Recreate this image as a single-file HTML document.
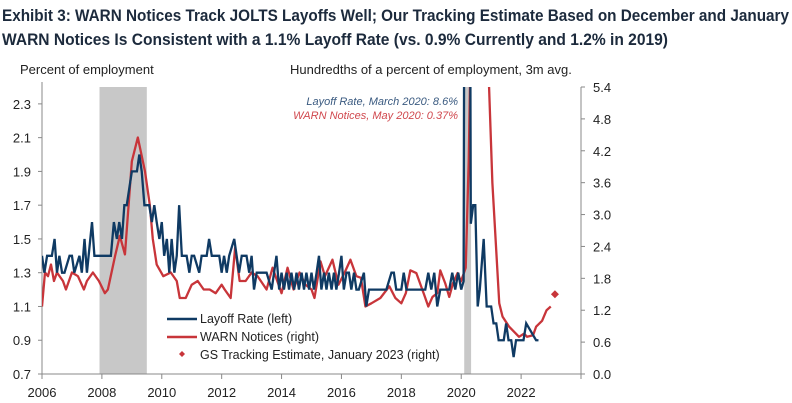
<!DOCTYPE html>
<html><head><meta charset="utf-8"><style>
body{margin:0;background:#fff;}
svg{display:block;font-family:"Liberation Sans",Arial,sans-serif;}
</style></head><body>
<svg id="chart" width="792" height="403" viewBox="0 0 792 403" xmlns="http://www.w3.org/2000/svg">
<text x="2" y="21" font-family="'Liberation Sans Narrow','Liberation Sans',sans-serif" font-weight="bold" font-size="17" fill="#1c2a3c" textLength="787" lengthAdjust="spacingAndGlyphs">Exhibit 3: WARN Notices Track JOLTS Layoffs Well; Our Tracking Estimate Based on December and January</text>
<text x="2" y="45" font-family="'Liberation Sans Narrow','Liberation Sans',sans-serif" font-weight="bold" font-size="17" fill="#1c2a3c" textLength="666" lengthAdjust="spacingAndGlyphs">WARN Notices Is Consistent with a 1.1% Layoff Rate (vs. 0.9% Currently and 1.2% in 2019)</text>
<text x="20" y="74" font-size="13" fill="#222">Percent of employment</text>
<text x="290" y="74" font-size="13" fill="#222">Hundredths  of a percent of employment, 3m avg.</text>
<g id="plot"></g>
</svg>
<script>
const xTicks=[2006,2008,2010,2012,2014,2016,2018,2020,2022];
const leftTicks=[0.7,0.9,1.1,1.3,1.5,1.7,1.9,2.1,2.3];
const rightTicks=[0.0,0.6,1.2,1.8,2.4,3.0,3.6,4.2,4.8,5.4];
const recessions=[[2007.92,2009.5],[2020.1,2020.33]];
const layoffDates=[2006.0,2006.08,2006.17,2006.33,2006.42,2006.5,2006.58,2006.67,2006.75,2006.92,2007.0,2007.08,2007.25,2007.33,2007.42,2007.5,2007.67,2007.75,2008.3,2008.4,2008.5,2008.58,2008.67,2008.75,2008.83,2009.0,2009.17,2009.25,2009.33,2009.42,2009.58,2009.67,2009.75,2009.83,2009.92,2010.0,2010.08,2010.17,2010.25,2010.33,2010.42,2010.5,2010.58,2010.67,2010.83,2010.92,2011.0,2011.08,2011.25,2011.33,2011.5,2011.58,2011.67,2011.92,2012.0,2012.08,2012.17,2012.25,2012.42,2012.58,2012.67,2012.83,2012.92,2013.0,2013.08,2013.17,2013.33,2013.5,2013.67,2013.75,2013.83,2013.92,2014.0,2014.08,2014.17,2014.25,2014.33,2014.42,2014.5,2014.58,2014.67,2014.75,2014.83,2014.92,2015.0,2015.08,2015.17,2015.25,2015.33,2015.42,2015.5,2015.58,2015.67,2015.75,2015.83,2015.92,2016.0,2016.08,2016.17,2016.25,2016.33,2016.42,2016.5,2016.58,2016.75,2016.83,2016.92,2017.08,2017.5,2017.67,2017.75,2017.83,2017.92,2018.0,2018.08,2018.17,2018.25,2018.8,2018.9,2019.0,2019.1,2019.2,2019.3,2019.6,2019.7,2019.8,2019.9,2020.0,2020.08,2020.17,2020.25,2020.32,2020.4,2020.47,2020.55,2020.62,2020.75,2020.85,2020.92,2021.0,2021.08,2021.17,2021.25,2021.33,2021.42,2021.5,2021.58,2021.67,2021.75,2021.83,2021.92,2022.0,2022.08,2022.17,2022.5,2022.58,2022.67,2022.75,2022.92];
const layoffValues=[1.4,1.3,1.4,1.4,1.5,1.3,1.4,1.3,1.3,1.4,1.4,1.3,1.4,1.3,1.5,1.3,1.6,1.4,1.4,1.6,1.5,1.6,1.5,1.7,1.7,1.9,1.9,2.0,1.9,1.7,1.7,1.6,1.7,1.6,1.5,1.6,1.4,1.5,1.3,1.5,1.3,1.4,1.7,1.4,1.4,1.3,1.4,1.4,1.3,1.4,1.4,1.5,1.4,1.4,1.3,1.4,1.3,1.4,1.5,1.3,1.4,1.4,1.3,1.4,1.2,1.3,1.3,1.3,1.2,1.3,1.4,1.2,1.3,1.2,1.3,1.2,1.3,1.2,1.3,1.2,1.3,1.2,1.3,1.2,1.3,1.2,1.3,1.4,1.2,1.3,1.2,1.3,1.2,1.3,1.2,1.3,1.4,1.2,1.3,1.3,1.2,1.3,1.2,1.2,1.3,1.1,1.2,1.2,1.2,1.3,1.3,1.2,1.2,1.2,1.3,1.2,1.2,1.2,1.3,1.2,1.3,1.1,1.2,1.2,1.3,1.2,1.3,1.2,1.25,8.6,6.0,1.59,1.7,1.7,1.1,1.2,1.5,1.1,1.1,1.1,1.0,1.0,0.9,0.9,0.9,1.0,0.9,0.9,0.8,0.9,0.9,0.9,0.9,1.0,0.9,0.9];
const warnDates=[2006.0,2006.1,2006.2,2006.3,2006.4,2006.5,2006.7,2006.8,2007.0,2007.2,2007.4,2007.5,2007.7,2007.9,2008.1,2008.2,2008.44,2008.6,2008.77,2009.0,2009.2,2009.44,2009.6,2009.7,2009.83,2010.05,2010.3,2010.5,2010.6,2010.8,2011.0,2011.2,2011.4,2011.6,2011.8,2012.0,2012.1,2012.3,2012.45,2012.6,2012.8,2013.0,2013.2,2013.5,2013.7,2014.0,2014.2,2014.4,2014.6,2014.8,2015.0,2015.1,2015.3,2015.45,2015.7,2015.9,2016.1,2016.3,2016.5,2016.65,2016.8,2017.0,2017.3,2017.6,2017.8,2018.0,2018.15,2018.3,2018.5,2018.77,2018.9,2019.04,2019.2,2019.3,2019.47,2019.6,2019.72,2019.88,2019.99,2020.15,2020.25,2020.4,2020.93,2021.04,2021.27,2021.38,2021.6,2021.93,2022.1,2022.2,2022.4,2022.5,2022.7,2022.85,2022.99];
const warnValues=[1.27,1.91,1.84,2.06,1.75,1.91,1.75,1.59,1.91,1.84,1.59,1.75,1.91,1.75,1.52,1.59,2.22,2.6,2.25,4.0,4.45,3.81,3.18,2.54,2.06,1.84,1.91,1.75,1.43,1.43,1.68,1.75,1.59,1.59,1.52,1.68,1.59,1.43,2.38,1.75,1.75,1.91,1.84,1.59,2.0,1.52,2.0,1.59,1.91,1.68,1.59,1.43,2.12,1.84,2.15,1.68,1.9,2.15,1.84,1.81,1.27,1.33,1.43,1.65,1.43,1.33,1.52,1.95,1.9,1.48,1.27,1.45,1.52,1.95,1.7,1.45,1.7,1.9,1.74,2.0,4.0,9.0,5.4,3.6,1.33,1.08,0.89,0.7,0.76,0.7,0.73,0.89,1.0,1.2,1.27];
const estDate=[2023.13];
const estValue=[1.5];

const NS='http://www.w3.org/2000/svg';
const L=42,R=581,T=87,B=374;
const x=v=>L+(v-2006)/(2024-2006)*(R-L);
const yl=v=>B-(v-0.7)/(2.4-0.7)*(B-T);
const yr=v=>B-v/5.4*(B-T);
const plot=document.getElementById('plot');
function mk(tag,attrs,parent){const e=document.createElementNS(NS,tag);for(const k in attrs)e.setAttribute(k,attrs[k]);(parent||plot).appendChild(e);return e;}
const defs=mk('defs',{});
const cp=mk('clipPath',{id:'clip'},defs);
mk('rect',{x:L,y:T,width:R-L,height:B-T},cp);

recessions.forEach(r=>{
  const e=mk('rect',{x:x(r[0]),y:T,width:x(r[1])-x(r[0]),height:B-T,fill:'#c8c8c8'});
  
  
});
// axes
let e=mk('line',{x1:L,y1:T-5,x2:L,y2:B,stroke:'#888','stroke-width':1});

e=mk('line',{x1:R,y1:T,x2:R,y2:B,stroke:'#888','stroke-width':1});

e=mk('line',{x1:L,y1:B,x2:R,y2:B,stroke:'#888','stroke-width':1});

leftTicks.forEach(v=>{
  mk('line',{x1:L-4,y1:yl(v),x2:L,y2:yl(v),stroke:'#888'});
  const t=mk('text',{x:31,y:yl(v)+5,'text-anchor':'end','font-size':13,fill:'#222'});
  t.textContent=v.toFixed(1);
  
  
});
rightTicks.forEach(v=>{
  mk('line',{x1:R,y1:yr(v),x2:R+4,y2:yr(v),stroke:'#888'});
  const t=mk('text',{x:593,y:yr(v)+5,'font-size':13,fill:'#222'});
  t.textContent=v.toFixed(1);
  
  
});
xTicks.concat([2024]).forEach(v=>{mk('line',{x1:x(v),y1:B,x2:x(v),y2:B+5,stroke:'#888'});});
xTicks.forEach(v=>{
  const t=mk('text',{x:x(v),y:397,'text-anchor':'middle','font-size':13,fill:'#222'});
  t.textContent=v;
  
  
});
const g=mk('g',{'clip-path':'url(#clip)'});
e=mk('polyline',{points:warnDates.map((d,i)=>x(d)+','+yr(warnValues[i])).join(' '),fill:'none',stroke:'#c8353a','stroke-width':2.3,'stroke-linejoin':'round'},g);

e=mk('polyline',{points:layoffDates.map((d,i)=>x(d)+','+yl(layoffValues[i])).join(' '),fill:'none',stroke:'#0f3a63','stroke-width':2.3,'stroke-linejoin':'miter'},g);

estDate.forEach((d,i)=>{
  const cx=x(d),cy=yr(estValue[i]);
  const p=mk('polygon',{points:`${cx},${cy-4} ${cx+4},${cy} ${cx},${cy+4} ${cx-4},${cy}`,fill:'#c8353a'});
  
  
});
// annotations
e=mk('text',{x:458,y:105,'text-anchor':'end','font-size':11,'font-style':'italic',fill:'#3a5a80'});e.textContent='Layoff Rate, March 2020: 8.6%';

e=mk('text',{x:458,y:119,'text-anchor':'end','font-size':11,'font-style':'italic',fill:'#d0484e'});e.textContent='WARN Notices, May 2020: 0.37%';

// legend
const lg=mk('g',{});

mk('line',{x1:167,y1:319,x2:197,y2:319,stroke:'#0f3a63','stroke-width':2.5},lg);
mk('line',{x1:167,y1:337,x2:197,y2:337,stroke:'#c8353a','stroke-width':2.5},lg);
mk('polygon',{points:'182,351 185,354 182,357 179,354',fill:'#c8353a'},lg);
[['Layoff Rate (left)',323,'legend-entry-layoff'],['WARN Notices (right)',341,'legend-entry-warn'],['GS Tracking Estimate, January 2023 (right)',359,'legend-entry-estimate']].forEach(a=>{
  const t=mk('text',{x:200,y:a[1],'font-size':12.5,fill:'#222'},lg);t.textContent=a[0];
  
  
});
</script>
</body></html>
